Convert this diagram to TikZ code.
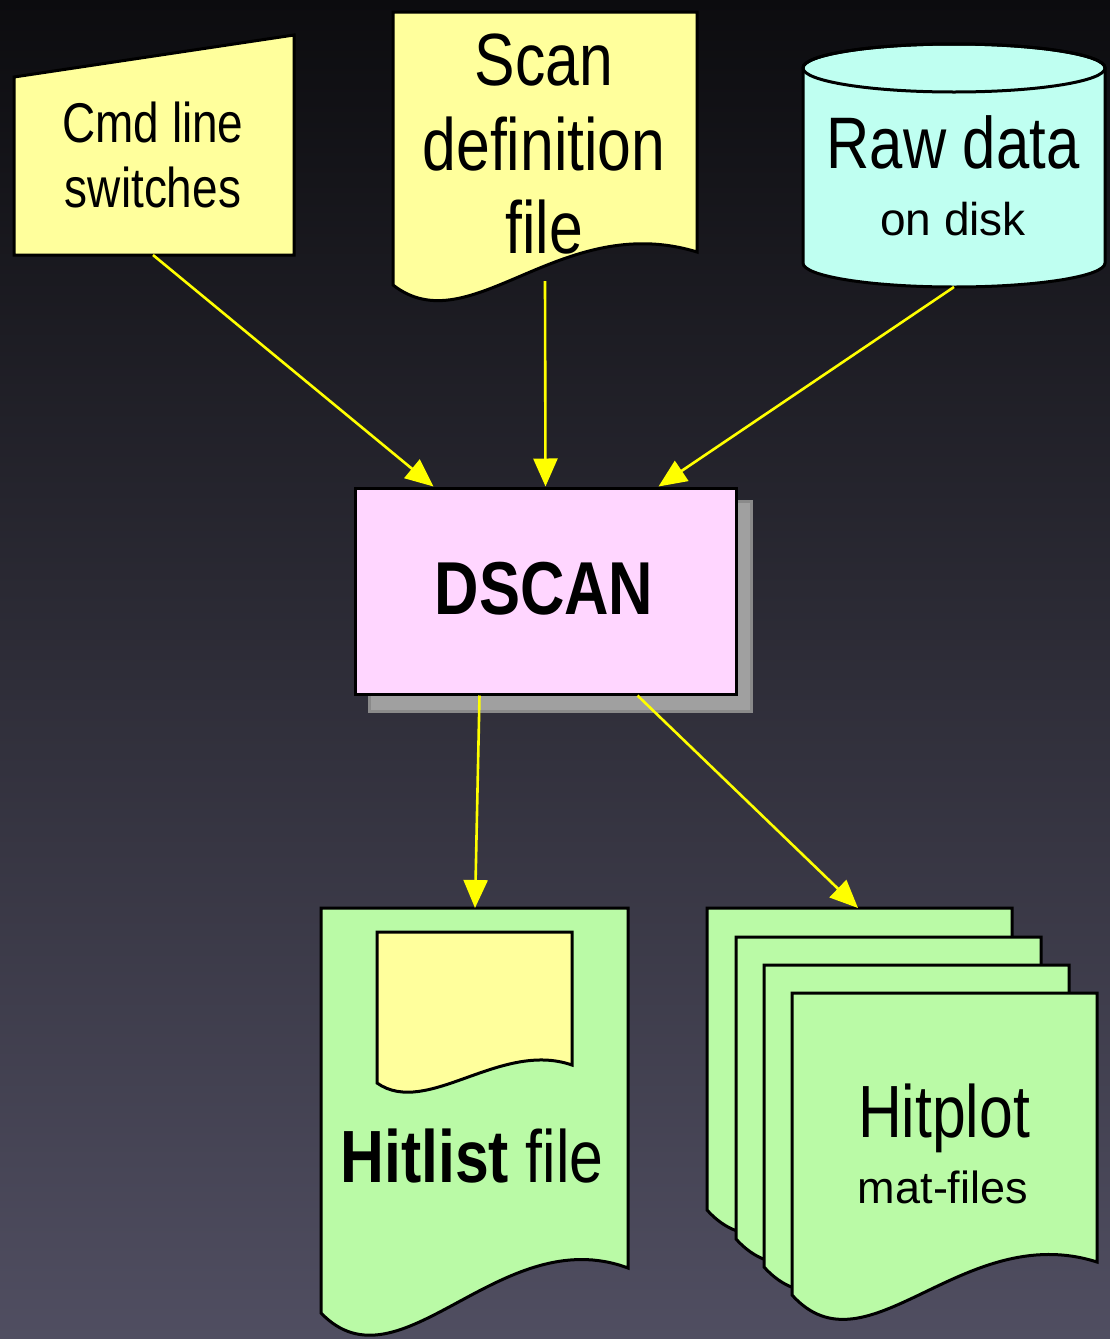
\documentclass[tikz,border=0pt]{standalone}
\usepackage{fontspec}
\setmainfont{Liberation Sans}
\newfontfamily\narrowsans{Liberation Sans}[FakeStretch=0.82]
\usetikzlibrary{arrows.meta}

\definecolor{bgtop}{RGB}{12,12,15}
\definecolor{bgmid}{RGB}{38,38,49}
\definecolor{bgbot}{RGB}{80,78,97}
\definecolor{noteyellow}{RGB}{255,255,156}
\definecolor{diskcyan}{RGB}{191,255,241}
\definecolor{procpink}{RGB}{255,214,255}
\definecolor{outgreen}{RGB}{186,250,166}
\definecolor{flowyellow}{RGB}{255,255,0}
\definecolor{shadowgray}{RGB}{160,160,160}
\definecolor{shadowedge}{RGB}{138,138,138}

\tikzset{
  outline/.style={draw=black, line width=3pt, line join=miter},
  flow/.style={draw=flowyellow, line width=2.6pt, -{Triangle[length=28pt,width=24pt]}},
  bigtext/.style={font=\narrowsans\fontsize{#1}{#1}\selectfont, inner sep=0pt, anchor=base},
  smalltext/.style={font=\fontsize{#1}{#1}\selectfont, inner sep=0pt, anchor=base},
}

\begin{document}
\begin{tikzpicture}[x=1pt, y=-1pt]
  % backdrop
  \useasboundingbox (0,0) rectangle (1110,1339);
  \shade[top color=bgtop, middle color=bgmid, bottom color=bgbot] (0,0) rectangle (1110,1339);

  % command line input (manual input shape)
  \path[outline, fill=noteyellow] (14,77) -- (294,35) -- (294,255) -- (14,255) -- cycle;
  \node[bigtext=56] (cmd1) at (153,142) {Cmd line};
  \node[bigtext=56] (cmd2) at (153,207) {switches};
  \coordinate (cmd-out) at (153,255);

  % scan definition file (document shape)
  \path[outline, fill=noteyellow] (393,12) -- (697,12) -- (697,252)
    .. controls (560,210) and (470,345) .. (393,285) -- cycle;
  \node[bigtext=74] (scan1) at (544,85) {Scan};
  \node[bigtext=74] (scan2) at (544,170) {definition};
  \node[bigtext=74] (scan3) at (544,253) {file};
  \coordinate (scan-out) at (545,281);

  % raw data on disk (cylinder)
  \path[outline, fill=diskcyan] (803,68) -- (803,263)
    arc[start angle=180, end angle=360, x radius=151pt, y radius=24pt]
    -- (1105,68)
    arc[start angle=0, end angle=180, x radius=151pt, y radius=24pt] -- cycle;
  \draw[outline] (954,68) ellipse [x radius=151pt, y radius=24pt];
  \node[bigtext=73] (raw1) at (953,168) {Raw data};
  \node[smalltext=46] (raw2) at (953,235) {on disk};
  \coordinate (raw-out) at (954,287);

  % DSCAN process with drop shadow
  \path[fill=shadowgray, draw=shadowedge, line width=3pt] (369,501) rectangle (751,711);
  \node[outline, fill=procpink, rectangle, minimum width=381pt, minimum height=206pt,
        inner sep=0pt] (dscan) at (545.5,591) {};
  \node[font=\narrowsans\bfseries\fontsize{75}{75}\selectfont, inner sep=0pt, anchor=base]
        (dscanlabel) at (544,614) {DSCAN};

  % hitlist file (document with embedded note)
  \path[outline, fill=outgreen] (321,908) -- (628,908) -- (628,1268)
    .. controls (500,1220) and (400,1395) .. (321,1313) -- cycle;
  \path[outline, fill=noteyellow] (377,932) -- (572,932) -- (572,1065)
    .. controls (500,1040) and (427,1118) .. (377,1083) -- cycle;
  \node[bigtext=74] (hitlist) at (472,1182) {\bfseries Hitlist\mdseries{} file};
  \coordinate (hitlist-in) at (475,908);

  % hitplot mat-files (stack of documents)
  \path[outline, fill=outgreen] (707,908) -- (1012,908) -- (1012,1177)
    .. controls (877,1134) and (782,1293) .. (707,1210) -- cycle;
  \path[outline, fill=outgreen] (736,937) -- (1041,937) -- (1041,1206)
    .. controls (906,1163) and (811,1322) .. (736,1239) -- cycle;
  \path[outline, fill=outgreen] (764,965) -- (1069,965) -- (1069,1234)
    .. controls (934,1191) and (839,1350) .. (764,1267) -- cycle;
  \path[outline, fill=outgreen] (792,993) -- (1097,993) -- (1097,1262)
    .. controls (962,1219) and (867,1378) .. (792,1295) -- cycle;
  \node[bigtext=74] (hitplot1) at (944,1137) {Hitplot};
  \node[smalltext=45] (hitplot2) at (943,1203) {mat-files};
  \coordinate (hitplot-in) at (858,908);

  % data flow
  \draw[flow] (cmd-out) -- ([xshift=80pt]dscan.north west);
  \draw[flow] (scan-out) -- (dscan.north);
  \draw[flow] (raw-out) -- ([xshift=-79pt]dscan.north east);
  \draw[flow] ([xshift=126pt]dscan.south west) -- (hitlist-in);
  \draw[flow] ([xshift=-100pt]dscan.south east) -- (hitplot-in);
\end{tikzpicture}
\end{document}
